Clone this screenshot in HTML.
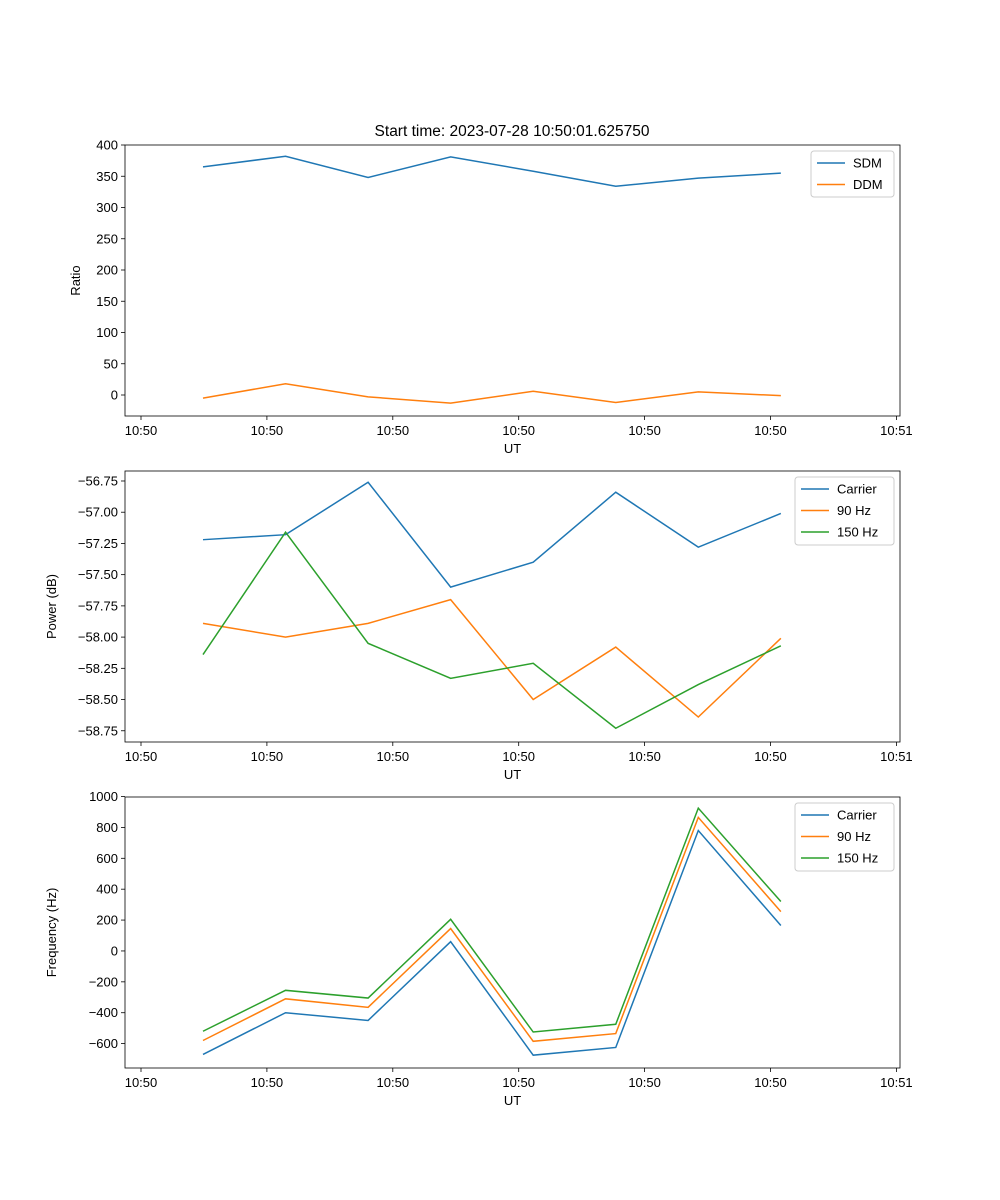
<!DOCTYPE html>
<html><head><meta charset="utf-8"><style>body{margin:0;background:#fff}svg{display:block;font-family:"Liberation Sans",sans-serif}</style></head>
<body><svg id="c" width="1000" height="1200" xmlns="http://www.w3.org/2000/svg"></svg>
<script>
const xTickLabels=["10:50","10:50","10:50","10:50","10:50","10:50","10:51"];
const sdm=[365,382,348,381,358,334,347,355];
const ddm=[-5,18,-3,-13,6,-12,5,-1];
const pCarrier=[-57.22,-57.18,-56.76,-57.60,-57.40,-56.84,-57.28,-57.01];
const p90=[-57.89,-58.00,-57.89,-57.70,-58.50,-58.08,-58.64,-58.01];
const p150=[-58.14,-57.16,-58.05,-58.33,-58.21,-58.73,-58.38,-58.07];
const fCarrier=[-670,-400,-450,60,-675,-625,780,165];
const f90=[-580,-310,-365,145,-585,-535,865,255];
const f150=[-520,-255,-305,205,-525,-475,925,320];
const ticks1=[0,50,100,150,200,250,300,350,400];
const ticks2=[-58.75,-58.5,-58.25,-58,-57.75,-57.5,-57.25,-57,-56.75];
const ticks3=[-600,-400,-200,0,200,400,600,800,1000];
const C=["#1f77b4","#ff7f0e","#2ca02c"];
const svg=document.getElementById('c');
const NS="http://www.w3.org/2000/svg";
function mk(t,a,txt){const e=document.createElementNS(NS,t);for(const k in a)e.setAttribute(k,a[k]);if(txt!==undefined)e.textContent=txt;svg.appendChild(e);return e;}
const L=125,R=900;
function xs(i){return 203+i*82.55;}
function xt(i){return 141+i*125.9;}
function panel(top,bot,ymin,ymax,ticks,fmt,ylabel,series,names,legH,legW,pname){
  const ys=v=>bot-(v-ymin)/(ymax-ymin)*(bot-top);
  let e;
  for(let i=0;i<xTickLabels.length;i++){const x=xt(i);
    e=mk('line',{x1:x,x2:x,y1:bot,y2:bot+4,stroke:'#000','stroke-width':0.8});
    
    e=mk('text',{x:x,y:bot+19,'font-size':13,'text-anchor':'middle'},xTickLabels[i]);
    }
  for(const t of ticks){const y=ys(t);
    e=mk('line',{x1:L-4,x2:L,y1:y,y2:y,stroke:'#000','stroke-width':0.8});
    
    e=mk('text',{x:L-7,y:y+4.5,'font-size':13,'text-anchor':'end'},fmt(t));
    }
  e=mk('text',{x:(L+R)/2,y:bot+37,'font-size':13,'text-anchor':'middle'},'UT');
  
  const lx=pname==='ratio'?80:56;
  e=mk('text',{x:lx,y:(top+bot)/2,'font-size':13,'text-anchor':'middle',transform:`rotate(-90 ${lx} ${(top+bot)/2})`},ylabel);
  
  series.forEach((s,k)=>{
    e=mk('polyline',{points:s.map((v,i)=>xs(i)+','+ys(v)).join(' '),fill:'none',stroke:C[k],'stroke-width':1.5});
    
  });
  e=mk('rect',{x:L,y:top,width:R-L,height:bot-top,fill:'none',stroke:'#000','stroke-width':0.8});
  
  const lx0=R-6-legW, ly0=top+6;
  e=mk('rect',{x:lx0,y:ly0,width:legW,height:legH,fill:'#fff',stroke:'#ccc',rx:3});
  
  names.forEach((n,k)=>{const y=ly0+12+k*21.5;
    e=mk('line',{x1:lx0+6,x2:lx0+34,y1:y,y2:y,stroke:C[k],'stroke-width':1.5});
    
    e=mk('text',{x:lx0+42,y:y+4.5,'font-size':13},n);
    });
}
let t=mk('text',{x:512,y:136,'font-size':15.5,'text-anchor':'middle'},'Start time: 2023-07-28 10:50:01.625750');

panel(145,416,-33.6,400,ticks1,v=>String(v),'Ratio',[sdm,ddm],['SDM','DDM'],46,83,'ratio');
panel(471,742,-58.84,-56.67,ticks2,v=>(v<0?'\u2212':'')+Math.abs(v).toFixed(2),'Power (dB)',[pCarrier,p90,p150],['Carrier','90 Hz','150 Hz'],68,99,'power');
panel(797,1068,-758,997,ticks3,v=>(v<0?'\u2212':'')+Math.abs(v),'Frequency (Hz)',[fCarrier,f90,f150],['Carrier','90 Hz','150 Hz'],68,99,'freq');
</script></body></html>
